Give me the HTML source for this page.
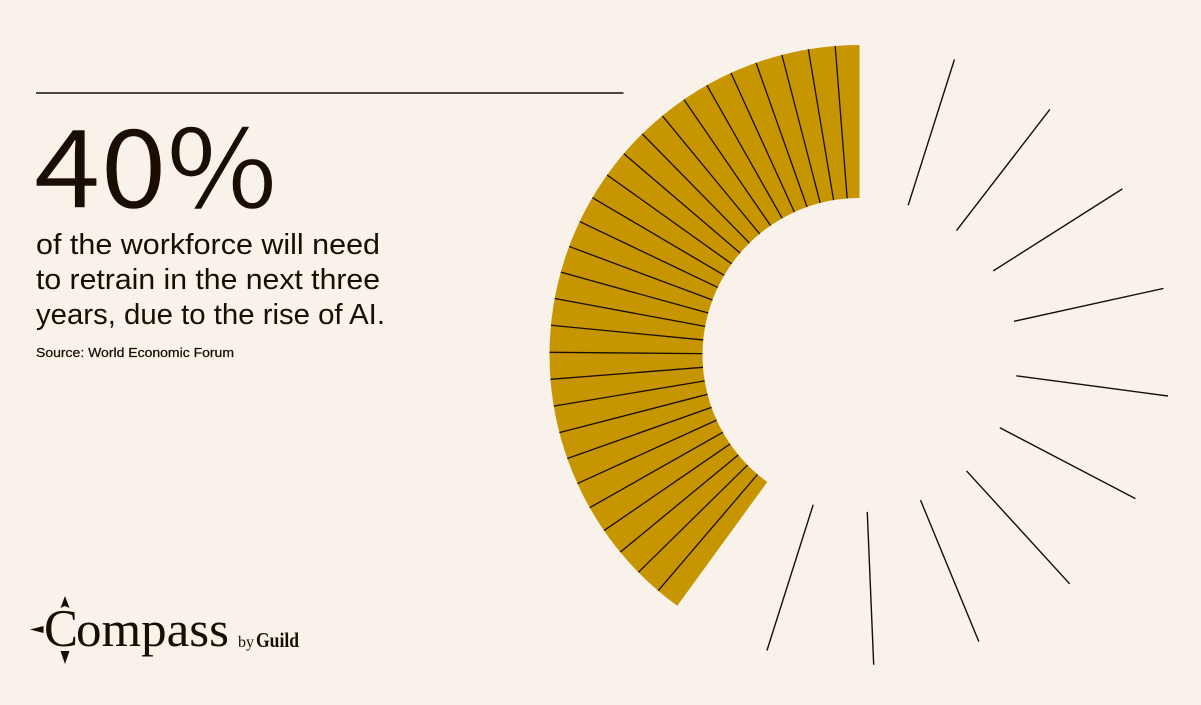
<!DOCTYPE html>
<html lang="en">
<head>
<meta charset="utf-8">
<title>40% of the workforce will need to retrain</title>
<style>
  html, body { margin: 0; padding: 0; background: #f8f2ea; }
  svg { display: block; }
  text { fill: #1a0e02; font-family: "Liberation Sans", Arimo, Arial, sans-serif; }
  text.serif { font-family: "Liberation Serif", serif; }
  text.big { font-family: "Noto Sans CJK JP", "DejaVu Sans", sans-serif; font-weight: 400; font-size: 122px; stroke: #f8f2ea; stroke-width: 0.5px; }
</style>
</head>
<body>
<svg id="graphic" xmlns="http://www.w3.org/2000/svg" width="1201" height="705" viewBox="0 0 1201 705">
  <rect x="0" y="0" width="1201" height="705" fill="#f8f2ea"/>
  <line x1="36" y1="93" x2="623.5" y2="93" stroke="#1a0e02" stroke-width="1.4"/>
  <text class="big" transform="translate(34 207.5) scale(0.98 0.89)">40%</text>
  <text x="36" y="254" font-size="29" textLength="344" lengthAdjust="spacingAndGlyphs">of the workforce will need</text>
  <text x="36" y="289" font-size="29" textLength="344" lengthAdjust="spacingAndGlyphs">to retrain in the next three</text>
  <text x="36" y="324" font-size="29" textLength="349" lengthAdjust="spacingAndGlyphs">years, due to the rise of AI.</text>
  <text x="36" y="357" font-size="13" stroke="#1a0e02" stroke-width="0.25" textLength="198" lengthAdjust="spacingAndGlyphs">Source: World Economic Forum</text>

  <g id="chart"></g>

  <g>
    <polygon points="65,596 69.5,608 65,606 60.5,608" fill="#1a0e02"/>
    <polygon points="65,664 60.5,651 69.5,651" fill="#1a0e02"/>
    <polygon points="30,629.5 43.5,626 43.5,633" fill="#1a0e02"/>
    <text class="serif" x="44" y="646" font-size="53" textLength="34" lengthAdjust="spacingAndGlyphs">C</text>
    <text class="serif" x="76" y="646" font-size="50" textLength="153" lengthAdjust="spacingAndGlyphs">ompass</text>
    <text class="serif" x="238" y="647" font-size="16" textLength="16" lengthAdjust="spacingAndGlyphs">by</text>
    <text class="serif" x="256" y="647" font-size="21" font-weight="700" textLength="43" lengthAdjust="spacingAndGlyphs">Guild</text>
  </g>
</svg>
<script>
const categories = ["Need to retrain", "Do not need to retrain"];
const shares = [40, 60];
const tickCounts = [28, 10];

const CX = 859.5, CY = 355, R_OUT = 310, R_IN = 157;
const SPOKE_SHIFT_X = 1.2;
const SVG_NS = "http://www.w3.org/2000/svg";
const chart = document.getElementById("chart");
const total = shares[0] + shares[1];

// Axis function: share value -> sweep in degrees.
function sweep(v) { return v / total * 360; }
// Polar function: degrees counter-clockwise from 12 o'clock -> pixel point.
function polar(deg, r) {
  const a = deg * Math.PI / 180;
  return [CX - r * Math.sin(a), CY - r * Math.cos(a)];
}

const fillSweep = sweep(shares[0]);
const restSweep = sweep(shares[1]);

const p1 = polar(0, R_OUT), p2 = polar(fillSweep, R_OUT);
const p3 = polar(fillSweep, R_IN), p4 = polar(0, R_IN);
const large = fillSweep > 180 ? 1 : 0;
const arc = document.createElementNS(SVG_NS, "path");
arc.setAttribute("d",
  "M" + p1 + " A" + R_OUT + "," + R_OUT + " 0 " + large + " 0 " + p2 +
  " L" + p3 + " A" + R_IN + "," + R_IN + " 0 " + large + " 1 " + p4 + " Z");
arc.setAttribute("fill", "#c79500");


chart.appendChild(arc);

function spoke(deg, width, name, shiftX) {
  const a = polar(deg, R_IN), b = polar(deg, R_OUT);
  const l = document.createElementNS(SVG_NS, "line");
  l.setAttribute("x1", a[0] + shiftX);
  l.setAttribute("y1", a[1]);
  l.setAttribute("x2", b[0] + shiftX);
  l.setAttribute("y2", b[1]);
  l.setAttribute("stroke", "#1a0e02");
  l.setAttribute("stroke-width", width);
  
  
  chart.appendChild(l);
}

// Ticks inside the filled arc, running counter-clockwise from the top.
const fillStep = fillSweep / (tickCounts[0] + 0.8);
for (let i = 1; i <= tickCounts[0]; i++) {
  spoke((i - 0.1) * fillStep, 1.3, "filled-tick-" + i, 0);
}

// Free-standing ticks over the unfilled part, running clockwise from the top.
const restStep = restSweep / (tickCounts[1] + 0.8);
for (let i = 1; i <= tickCounts[1]; i++) {
  spoke(360 - (i - 0.12) * restStep, 1.4, "unfilled-tick-" + i, SPOKE_SHIFT_X);
}
</script>
</body>
</html>
